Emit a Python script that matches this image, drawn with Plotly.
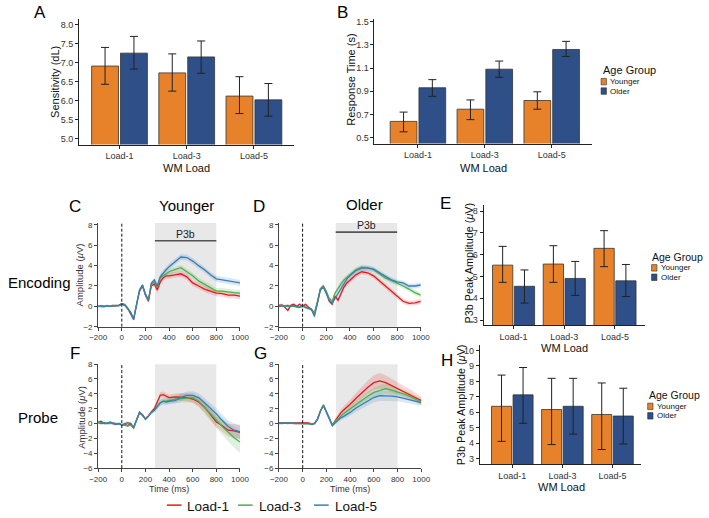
import plotly.graph_objects as go

# ---------------- data ----------------
loads = ["Load-1", "Load-3", "Load-5"]

sens_young    = [6.91, 6.73, 6.12]
sens_young_lo = [6.43, 6.25, 5.66]
sens_young_hi = [7.40, 7.23, 6.63]
sens_old      = [7.25, 7.15, 6.02]
sens_old_lo   = [6.83, 6.72, 5.59]
sens_old_hi   = [7.69, 7.57, 6.45]

rt_young    = [0.64, 0.745, 0.82]
rt_young_lo = [0.55, 0.655, 0.745]
rt_young_hi = [0.72, 0.825, 0.895]
rt_old      = [0.93, 1.09, 1.26]
rt_old_lo   = [0.856, 1.02, 1.20]
rt_old_hi   = [1.00, 1.16, 1.33]

enc_p3b_young    = [5.52, 5.57, 6.29]
enc_p3b_young_lo = [4.73, 4.73, 5.45]
enc_p3b_young_hi = [6.38, 6.41, 7.10]
enc_p3b_old      = [4.55, 4.91, 4.80]
enc_p3b_old_lo   = [3.78, 4.13, 4.08]
enc_p3b_old_hi   = [5.30, 5.69, 5.55]

probe_p3b_young    = [6.39, 6.18, 5.86]
probe_p3b_young_lo = [4.12, 3.91, 3.59]
probe_p3b_young_hi = [8.41, 8.20, 7.90]
probe_p3b_old      = [7.13, 6.39, 5.76]
probe_p3b_old_lo   = [5.29, 4.59, 3.95]
probe_p3b_old_hi   = [8.90, 8.20, 7.56]

time_ms = [-200, -175, -150, -125, -100, -75, -50, -25, 0, 25, 50, 75, 100, 125, 150, 175,
           200, 225, 250, 275, 300, 325, 350, 375, 400, 450, 500, 550, 600, 650, 700, 750,
           800, 850, 900, 950, 1000]

# Encoding, younger (panel C)
enc_young_l1 = [0.0, 0.05, 0.0, 0.05, 0.0, 0.1, 0.05, 0.1, 0.25, 0.15, -0.2, -0.7, -1.3, 0.2, 1.5, 2.0,
                1.1, 0.5, 2.0, 2.2, 1.6, 2.4, 2.8, 3.0, 3.0, 3.1, 3.2, 2.9, 2.3, 2.0, 1.7, 1.5,
                1.3, 1.25, 1.1, 1.1, 1.0]
enc_young_l3 = [0.0, 0.0, -0.05, 0.05, 0.0, 0.05, 0.1, 0.05, 0.2, 0.1, -0.2, -0.6, -1.2, 0.3, 1.6, 2.1,
                1.2, 0.6, 2.2, 2.4, 1.9, 2.8, 3.0, 3.2, 3.4, 3.6, 3.8, 3.4, 3.0, 2.5, 2.15, 1.8,
                1.5, 1.5, 1.4, 1.35, 1.3]
enc_young_l5 = [0.0, 0.05, 0.0, 0.05, 0.0, 0.05, 0.05, 0.1, 0.25, 0.15, -0.2, -0.6, -1.3, 0.3, 1.6, 2.1,
                1.2, 0.6, 2.3, 2.6, 2.0, 2.9, 3.3, 3.6, 3.9, 4.4, 4.85, 4.8, 4.45, 4.0, 3.6, 3.1,
                2.7, 2.6, 2.5, 2.4, 2.3]
# Encoding, older (panel D)
enc_old_l1 = [0.1, 0.15, -0.1, -0.4, 0.1, 0.2, 0.0, 0.2, 0.0, 0.2, -0.1, -0.3, -0.7, 0.3, 1.7, 2.0,
              1.4, 0.5, 0.2, 1.0, 0.6, 1.3, 1.9, 2.3, 2.6, 3.1, 3.4, 3.3, 3.0, 2.5, 2.0, 1.5,
              1.0, 0.5, 0.3, 0.35, 0.5]
enc_old_l3 = [0.0, 0.1, 0.0, 0.0, 0.05, 0.0, -0.05, -0.1, 0.0, -0.1, -0.2, -0.3, -0.7, 0.5, 1.7, 2.0,
              1.5, 0.8, 0.5, 1.3, 1.8, 2.2, 2.6, 2.9, 3.1, 3.6, 3.85, 3.8, 3.6, 3.2, 2.8, 2.55,
              2.3, 2.0, 1.7, 1.35, 1.1]
enc_old_l5 = [0.0, 0.0, 0.05, 0.1, 0.0, 0.1, -0.05, -0.1, 0.1, -0.1, -0.2, -0.3, -1.0, 0.4, 1.6, 1.9,
              1.3, 0.6, 0.3, 0.8, 1.3, 1.8, 2.3, 2.7, 3.0, 3.5, 3.75, 3.75, 3.65, 3.3, 2.9, 2.6,
              2.4, 2.3, 2.0, 2.0, 2.1]
# Probe, younger (panel F)
probe_young_l1 = [0.2, 0.3, 0.0, 0.1, 0.1, 0.0, -0.1, 0.0, -0.2, -0.1, -0.3, 0.0, -0.6, 0.5, 1.5, 1.2,
                  0.6, 1.0, 1.6, 2.0, 2.8, 3.8, 3.9, 3.7, 3.5, 3.6, 3.6, 3.5, 3.3, 2.9, 2.2, 1.2,
                  0.2, -0.3, -0.9, -1.0, -1.2]
probe_young_l3 = [0.3, 0.1, 0.1, 0.0, 0.0, 0.1, 0.0, -0.1, -0.1, -0.2, -0.3, -0.2, -0.6, 0.4, 1.5, 1.1,
                  0.6, 1.0, 1.5, 1.8, 2.3, 2.8, 3.0, 3.0, 3.1, 3.3, 3.4, 3.5, 3.5, 3.0, 2.2, 1.3,
                  0.5, -0.4, -1.2, -1.9, -2.5]
probe_young_l5 = [0.1, 0.0, 0.1, 0.0, 0.2, 0.0, -0.1, 0.0, -0.2, 0.0, 0.1, 0.0, -0.5, 0.5, 1.5, 1.1,
                  0.6, 1.0, 1.5, 1.8, 2.3, 2.8, 3.0, 2.9, 3.0, 3.1, 3.5, 3.8, 3.8, 3.5, 2.8, 2.1,
                  1.3, 0.4, -0.4, -0.9, -1.1]
# Probe, older (panel G)
probe_old_l1 = [0.1, 0.1, 0.0, 0.1, 0.0, 0.1, 0.0, 0.1, 0.0, 0.0, 0.1, -0.1, 0.0, 0.6, 1.7, 2.5,
                1.6, 0.6, -0.2, 0.4, 1.0, 1.5, 1.9, 2.2, 2.6, 3.4, 4.2, 4.9, 5.5, 5.75, 5.5, 5.1,
                4.8, 4.4, 4.0, 3.6, 3.1]
probe_old_l3 = [0.0, 0.1, 0.1, 0.0, 0.1, 0.0, 0.0, 0.0, 0.0, 0.1, 0.0, -0.1, 0.0, 0.6, 1.7, 2.5,
                1.6, 0.6, -0.2, 0.3, 0.7, 1.1, 1.4, 1.7, 2.0, 2.6, 3.2, 3.7, 4.2, 4.5, 4.7, 4.5,
                4.3, 4.0, 3.7, 3.3, 2.9]
probe_old_l5 = [0.1, 0.0, 0.1, 0.1, 0.0, 0.0, 0.0, 0.0, 0.0, 0.0, 0.0, -0.1, 0.0, 0.6, 1.7, 2.4,
                1.5, 0.6, -0.3, 0.1, 0.5, 0.8, 1.0, 1.2, 1.5, 2.1, 2.6, 3.1, 3.5, 3.75, 3.75, 3.7,
                3.6, 3.4, 3.2, 3.0, 2.8]

# standard errors (band half-widths)
se_enc_young = [0.1, 0.1, 0.1, 0.1, 0.1, 0.1, 0.1, 0.1, 0.1, 0.15, 0.15, 0.15, 0.15, 0.15, 0.15, 0.15,
                0.15, 0.15, 0.15, 0.25, 0.28, 0.3, 0.3, 0.3, 0.3, 0.3, 0.3, 0.3, 0.3, 0.3, 0.3, 0.3,
                0.3, 0.3, 0.3, 0.3, 0.3]
se_enc_old = [0.12, 0.12, 0.12, 0.12, 0.12, 0.12, 0.12, 0.12, 0.12, 0.15, 0.15, 0.15, 0.15, 0.15, 0.15, 0.15,
              0.15, 0.15, 0.15, 0.2, 0.22, 0.25, 0.25, 0.25, 0.25, 0.25, 0.25, 0.25, 0.25, 0.25, 0.25, 0.25,
              0.25, 0.25, 0.25, 0.25, 0.25]
se_probe_young = [0.15, 0.15, 0.15, 0.15, 0.15, 0.15, 0.15, 0.15, 0.15, 0.2, 0.2, 0.2, 0.2, 0.2, 0.2, 0.2,
                  0.2, 0.2, 0.2, 0.3, 0.35, 0.4, 0.4, 0.4, 0.4, 0.45, 0.5, 0.5, 0.55, 0.6, 0.65, 0.7,
                  0.75, 0.8, 0.85, 0.9, 0.95]
se_probe_young_l3 = [0.15, 0.15, 0.15, 0.15, 0.15, 0.15, 0.15, 0.15, 0.15, 0.2, 0.2, 0.2, 0.2, 0.2, 0.2, 0.2,
                     0.2, 0.2, 0.2, 0.3, 0.35, 0.4, 0.4, 0.4, 0.45, 0.5, 0.55, 0.6, 0.65, 0.75, 0.85, 0.95,
                     1.05, 1.15, 1.25, 1.35, 1.45]
se_probe_old_l1 = [0.12, 0.12, 0.12, 0.12, 0.12, 0.12, 0.12, 0.12, 0.12, 0.15, 0.15, 0.15, 0.2, 0.2, 0.2, 0.2,
                   0.2, 0.2, 0.2, 0.3, 0.4, 0.45, 0.5, 0.55, 0.6, 0.7, 0.8, 0.9, 1.0, 1.05, 1.0, 0.9,
                   0.8, 0.7, 0.65, 0.6, 0.55]
se_probe_old = [0.12, 0.12, 0.12, 0.12, 0.12, 0.12, 0.12, 0.12, 0.12, 0.15, 0.15, 0.15, 0.15, 0.15, 0.15, 0.15,
                0.15, 0.15, 0.15, 0.25, 0.3, 0.35, 0.4, 0.4, 0.45, 0.5, 0.55, 0.6, 0.65, 0.7, 0.7, 0.65,
                0.6, 0.55, 0.5, 0.5, 0.45]

p3b_window = [280, 800]
p3b_label_y = {"C": 6.45, "D": 7.3}

# ---------------- helpers ----------------
W, H = 709, 518
FONT = "Liberation Sans, Arial, Helvetica, sans-serif"
ORANGE = "#E8822A"
NAVY = "#2E4F87"
OUTLINE = "#333333"
RED = "#E41A1C"
GREEN = "#4DAF4A"
BLUE = "#377EB8"
FILLS = {RED: "rgba(228,26,28,0.18)", GREEN: "rgba(77,175,74,0.18)", BLUE: "rgba(55,126,184,0.18)"}


def xd(a, b):
    return [a / W, b / W]


def yd(top, bot):
    return [1 - bot / H, 1 - top / H]


def px(x):
    return x / W


def py(y):
    return 1 - y / H


fig = go.Figure()
layout = {}
annotations = []
shapes = []


def ann(text, x, y, size, color="#000", angle=0, xanchor="center", yanchor="middle"):
    annotations.append(dict(text=text, x=px(x), y=py(y), xref="paper", yref="paper", showarrow=False,
                            font=dict(size=size, color=color, family=FONT), textangle=angle,
                            xanchor=xanchor, yanchor=yanchor))


def bar_panel(n, xdom, ydom, xr, yr, tickvals, fmt, young, ylo, yhi, old, olo, ohi):
    sx = "" if n == 1 else str(n)
    xa, ya = "x" + sx, "y" + sx
    for vals, lo, hi, col, nm in [(young, ylo, yhi, ORANGE, "Younger"), (old, olo, ohi, NAVY, "Older")]:
        fig.add_trace(go.Bar(
            x=loads, y=vals, name=nm, xaxis=xa, yaxis=ya, showlegend=False,
            marker=dict(color=col, line=dict(color=OUTLINE, width=0.8)),
            error_y=dict(type="data", symmetric=False,
                         array=[h - v for h, v in zip(hi, vals)],
                         arrayminus=[v - l for v, l in zip(vals, lo)],
                         color="#222", thickness=1, width=4)))
    layout["xaxis" + sx] = dict(domain=xd(*xdom), range=xr, anchor=ya, type="category",
                                showline=True, linecolor="#222", linewidth=1, ticks="outside",
                                ticklen=3, tickcolor="#222", tickfont=dict(size=9, color="#333", family=FONT),
                                showgrid=False, zeroline=False)
    layout["yaxis" + sx] = dict(domain=yd(*ydom), range=yr, anchor=xa, tickvals=tickvals,
                                tickformat=fmt, showline=True, linecolor="#222", linewidth=1,
                                ticks="outside", ticklen=3, tickcolor="#222",
                                tickfont=dict(size=9, color="#333", family=FONT),
                                showgrid=False, zeroline=False)


def erp_panel(n, xdom, ydom, yr, series, p3b_y=None):
    sx = str(n)
    xa, ya = "x" + sx, "y" + sx
    for vals, se, col in series:
        up = [v + s for v, s in zip(vals, se)]
        lo = [v - s for v, s in zip(vals, se)]
        fig.add_trace(go.Scatter(x=time_ms, y=up, mode="lines", line=dict(width=0, color=col),
                                 xaxis=xa, yaxis=ya, showlegend=False, hoverinfo="skip"))
        fig.add_trace(go.Scatter(x=time_ms, y=lo, mode="lines", line=dict(width=0, color=col),
                                 fill="tonexty", fillcolor=FILLS[col],
                                 xaxis=xa, yaxis=ya, showlegend=False, hoverinfo="skip"))
    for vals, se, col in series:
        fig.add_trace(go.Scatter(x=time_ms, y=vals, mode="lines", line=dict(width=1.3, color=col),
                                 xaxis=xa, yaxis=ya, showlegend=False))
    layout["xaxis" + sx] = dict(domain=xd(*xdom), range=[-200, 1000], anchor=ya,
                                tickvals=[-200, 0, 200, 400, 600, 800, 1000],
                                showline=True, linecolor="#444", linewidth=1, ticks="outside",
                                ticklen=3, tickcolor="#444", tickfont=dict(size=8, color="#333", family=FONT),
                                showgrid=False, zeroline=False)
    layout["yaxis" + sx] = dict(domain=yd(*ydom), range=yr, anchor=xa, dtick=2,
                                showline=True, linecolor="#444", linewidth=1, ticks="outside",
                                ticklen=3, tickcolor="#444", tickfont=dict(size=8, color="#333", family=FONT),
                                showgrid=False, zeroline=False)
    shapes.append(dict(type="rect", xref=xa, yref=ya + " domain", x0=p3b_window[0], x1=p3b_window[1],
                       y0=0, y1=1, fillcolor="#e8e8e8", line=dict(width=0), layer="below"))
    shapes.append(dict(type="line", xref=xa, yref=ya + " domain", x0=0, x1=0, y0=0, y1=1,
                       line=dict(color="#111", width=1, dash="3px,2px")))
    if p3b_y is not None:
        shapes.append(dict(type="line", xref=xa, yref=ya, x0=p3b_window[0], x1=p3b_window[1],
                           y0=p3b_y, y1=p3b_y, line=dict(color="#555", width=1.6)))
        annotations.append(dict(text="P3b", x=(p3b_window[0] + p3b_window[1]) / 2, y=p3b_y,
                                xref=xa, yref=ya, showarrow=False, yanchor="bottom", yshift=-1,
                                font=dict(size=10.5, color="#222", family=FONT)))


# ---------------- panels ----------------
bar_panel(1, (72, 292), (15, 143), [-0.6, 2.59], [4.845, 8.155],
          [5.0, 5.5, 6.0, 6.5, 7.0, 7.5, 8.0], ".1f",
          sens_young, sens_young_lo, sens_young_hi, sens_old, sens_old_lo, sens_old_hi)
bar_panel(2, (375, 598), (15, 142), [-0.65, 2.6], [0.449, 1.525],
          [0.5, 0.7, 0.9, 1.1, 1.3, 1.5], ".1f",
          rt_young, rt_young_lo, rt_young_hi, rt_old, rt_old_lo, rt_old_hi)

erp_panel(3, (91.5, 237), (222.8, 328.4), [-2, 8.2],
          [(enc_young_l1, se_enc_young, RED), (enc_young_l3, se_enc_young, GREEN),
           (enc_young_l5, se_enc_young, BLUE)], p3b_label_y["C"])
erp_panel(4, (277, 422.5), (222.8, 328.4), [-2, 8.2],
          [(enc_old_l1, se_enc_old, RED), (enc_old_l3, se_enc_old, GREEN),
           (enc_old_l5, se_enc_old, BLUE)], p3b_label_y["D"])

bar_panel(5, (487, 653), (205, 327), [-0.59, 2.6], [2.76, 8.257],
          [3, 4, 5, 6, 7, 8], "d",
          enc_p3b_young, enc_p3b_young_lo, enc_p3b_young_hi, enc_p3b_old, enc_p3b_old_lo, enc_p3b_old_hi)

erp_panel(6, (91.5, 237), (366.5, 472.3), [-6, 8],
          [(probe_young_l1, se_probe_young, RED), (probe_young_l3, se_probe_young_l3, GREEN),
           (probe_young_l5, se_probe_young, BLUE)])
erp_panel(7, (277, 423), (366.5, 472.3), [-6, 8],
          [(probe_old_l1, se_probe_old_l1, RED), (probe_old_l3, se_probe_old, GREEN),
           (probe_old_l5, se_probe_old, BLUE)])

bar_panel(8, (483, 648), (347, 468.5), [-0.65, 2.56], [2.63, 10.36],
          [3, 4, 5, 6, 7, 8, 9, 10], "d",
          probe_p3b_young, probe_p3b_young_lo, probe_p3b_young_hi,
          probe_p3b_old, probe_p3b_old_lo, probe_p3b_old_hi)

# ---------------- text ----------------
for lab, x, y in [("A", 32, 9), ("B", 342, 9), ("C", 68, 206), ("D", 257, 206),
                  ("E", 448, 203), ("F", 68, 356), ("G", 258, 356), ("H", 449, 363)]:
    ann(lab, x, y, 17)

ann("Younger", 182, 205, 15)
ann("Older", 365, 204, 15)
ann("Encoding", 31, 283, 15)
ann("Probe", 30, 421, 15)

ann("Sensitivity (dL)", 46.5, 79, 11, "#111", -90)
ann("WM Load", 182, 167, 11, "#111")
ann("Response Time (s)", 351, 77, 11, "#111", -90)
ann("WM Load", 487, 167, 11, "#111")
ann("P3b Peak Amplitude (<i>μ</i>V)", 472, 264, 10.8, "#111", -90)
ann("WM Load", 570, 350, 11, "#111")
ann("P3b Peak Amplitude (<i>μ</i>V)", 464, 408, 10.8, "#111", -90)
ann("WM Load", 567, 492, 11, "#111")

ann("Amplitude (<i>μ</i>V)", 72, 276, 9.5, "#333", -90)
ann("Amplitude (<i>μ</i>V)", 75, 421, 9.5, "#333", -90)
ann("Time (ms)", 164, 494, 9, "#333")
ann("Time (ms)", 350, 494, 9, "#333")

# Age group legends
for (tx, ty, sx0, iy1, fs1) in [(607, 67, 607.5, 79, 11),
                                (658, 257, 659.3, 268.5, 10.5),
                                (655, 398, 655.3, 409.5, 10.5)]:
    ann("Age Group", tx, ty, fs1, "#111", xanchor="left")
    for k, (col, nm) in enumerate([(ORANGE, "Younger"), (NAVY, "Older")]):
        yc = iy1 + k * 9.6
        shapes.append(dict(type="rect", xref="paper", yref="paper", x0=px(sx0), x1=px(sx0 + 5.5),
                           y0=py(yc + 3.3), y1=py(yc - 3.3), fillcolor=col,
                           line=dict(color=OUTLINE, width=0.6)))
        ann(nm, sx0 + 7.5, yc, 8, "#111", xanchor="left")

# Load legend (bottom)
for name, col, x0 in [("Load-1", RED, 162), ("Load-3", GREEN, 235), ("Load-5", BLUE, 313)]:
    shapes.append(dict(type="line", xref="paper", yref="paper", x0=px(x0), x1=px(x0 + 15),
                       y0=py(510), y1=py(510), line=dict(color=col, width=1.5)))
    ann(name, x0 + 19, 511, 13.5, "#111", xanchor="left")

fig.update_layout(width=W, height=H, margin=dict(l=0, r=0, t=0, b=0),
                  paper_bgcolor="white", plot_bgcolor="white",
                  font=dict(family=FONT), barmode="group", bargap=0.14, bargroupgap=0.07,
                  showlegend=False, annotations=annotations, shapes=shapes, **layout)

fig.write_html("out.html")
